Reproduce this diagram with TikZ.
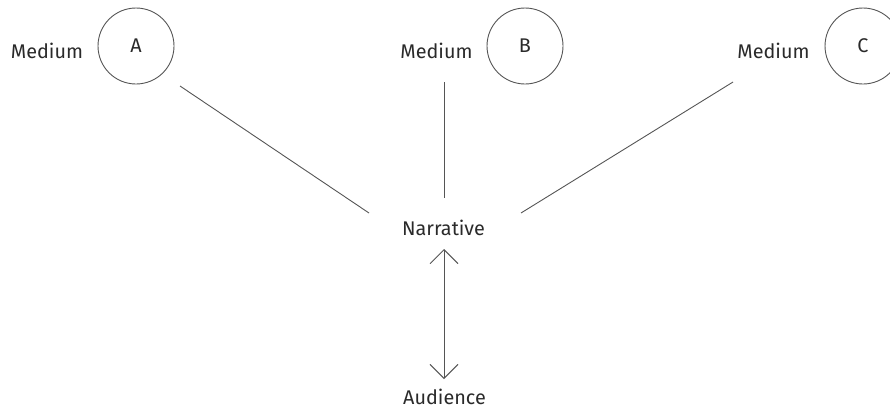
\documentclass[tikz,border=0pt]{standalone}
\usepackage{fontspec}
\setmainfont{Fira Sans}
\usetikzlibrary{arrows.meta}
\definecolor{ink}{HTML}{555555}
\definecolor{txt}{HTML}{2A2A2A}
\tikzset{
  label text/.style={font=\fontsize{19.8}{22}\selectfont, text=txt, inner sep=0pt},
  medium circle/.style={circle, draw=ink, line width=0.9pt, minimum size=76pt, inner sep=0pt,
    font=\fontsize{19.8}{22}\selectfont, text=txt},
  link/.style={draw=ink, line width=0.9pt},
  barb/.tip={Straight Barb[length=14pt,width=28pt,line width=0.9pt]}
}
\begin{document}
\begin{tikzpicture}[x=1pt,y=-1pt]
  \path[use as bounding box] (0,0) rectangle (890,410);
  \clip (0,0) rectangle (890,410);

  % media circles and their labels
  \node[medium circle] (A) at (136,46) {A};
  \node[medium circle] (B) at (525,46) {B};
  \node[medium circle] (C) at (863,46) {C};
  \node[label text] (mA) at (47,51) {Medium};
  \node[label text] (mB) at (436.5,51) {Medium};
  \node[label text] (mC) at (773.5,51) {Medium};

  % central narrative and audience
  \node[label text] (N) at (443.5,228) {Narrative};
  \node[label text] (U) at (444.5,397) {Audience};

  % connector end points
  \coordinate (a1) at (180,86);
  \coordinate (a2) at (369,213);
  \coordinate (b1) at (444,82);
  \coordinate (b2) at (444,198);
  \coordinate (c1) at (733,82);
  \coordinate (c2) at (521,213);
  \coordinate (n1) at (444,249);
  \coordinate (u1) at (444,379);

  \draw[link] (a1) -- (a2);
  \draw[link] (b1) -- (b2);
  \draw[link] (c1) -- (c2);
  \draw[link, barb-barb] (n1) -- (u1);
\end{tikzpicture}
\end{document}
